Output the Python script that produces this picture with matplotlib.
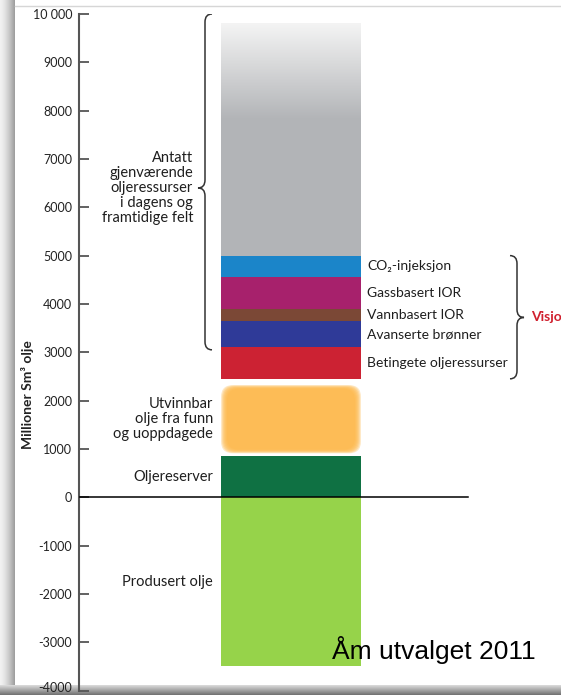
import numpy as np
import matplotlib.pyplot as plt
from matplotlib.path import Path
from matplotlib.patches import PathPatch, FancyBboxPatch
from matplotlib.colors import to_rgb
from matplotlib.transforms import ScaledTranslation

plt.rcParams['font.family'] = ['Lato', 'DejaVu Sans']

# resource bands, bottom -> top (million Sm3 oil)
band_names = ['Produsert olje', 'Oljereserver', 'Utvinnbar\nolje fra funn\nog uoppdagede',
              'Betingete oljeressurser', 'Avanserte brønner', 'Vannbasert IOR',
              'Gassbasert IOR', 'CO₂-injeksjon',
              'Antatt\ngjenværende\noljeressurser\ni dagens og\nframtidige felt']
band_low = [-3500, 0, 900, 2450, 3100, 3650, 3900, 4550, 5000]
band_high = [0, 850, 2330, 3100, 3650, 3900, 4550, 5000, 9800]
band_colors = ['#96d34a', '#0f7143', '#fdb849', '#cc2233', '#2f3a98',
               '#7b4836', '#a7216c', '#1b85c9', '#b2b4b7']
left_side = [True, True, True, False, False, False, False, False, True]

yticks = list(range(-4000, 10001, 1000))
ytick_labels = ['10 000' if t == 10000 else str(t) for t in yticks]

fig = plt.figure(figsize=(5.61, 6.95), dpi=100)
W, H = 561, 695

# bevelled frame around the picture
g = np.linspace(0, 1, 64)
lstrip = fig.add_axes([0, 0, 15 / W, 1])
c0, c1 = np.array(to_rgb('#f2f2f2')), np.array(to_rgb('#9c9c9c'))
lstrip.imshow((c0 + (c1 - c0) * g[:, None] ** 1.5)[None, :, :], aspect='auto', extent=[0, 1, 0, 1])
lstrip.axis('off')
bstrip = fig.add_axes([0, 0, 1, 10 / H])
c0, c1 = np.array(to_rgb('#dcdcdc')), np.array(to_rgb('#707070'))
bstrip.imshow((c0 + (c1 - c0) * g[:, None])[:, None, :], aspect='auto', extent=[0, 1, 0, 1])
bstrip.axis('off')
fig.add_artist(plt.Line2D([15 / W, 1], [1 - 5.5 / H, 1 - 5.5 / H], color='#d6d6d6', lw=1))

ax = fig.add_axes([79 / W, 4.5 / H, 482 / W, 676.5 / H])
ax.set_xlim(0, 482)
ax.set_ylim(-4000, 10000)
ax.patch.set_alpha(0)
k = 14000 / 676.5  # data units per pixel vertically

bar_x, bar_w = 212, 140
for name, lo, hi, col in zip(band_names, band_low, band_high, band_colors):
    if name.startswith('Utvinnbar'):
        # feathered rounded block for discovered/undiscovered oil
        for i in range(7):
            inset = 6 - i
            box = FancyBboxPatch((bar_x - bar_w / 2 + inset, lo - (6 - inset) * k * 0.6 + 4 * k),
                                 bar_w - 2 * inset, hi - lo + 2 * (6 - inset) * k * 0.6 - 8 * k,
                                 boxstyle='round,pad=0,rounding_size=12', mutation_aspect=k,
                                 fc=col, ec='none', alpha=0.3, zorder=2)
            ax.add_patch(box)
    else:
        ax.bar(bar_x, hi - lo, bottom=lo, width=bar_w, color=col, zorder=2)

# fade at the top of the grey band
top_lo, top_hi = 7800, band_high[-1]
fade = np.linspace(0, 1, 100)[:, None, None]
c0, c1 = np.array(to_rgb('#f4f4f4')), np.array(to_rgb(band_colors[-1]))
ax.imshow(c1 + (c0 - c1) * fade * np.ones((1, 1, 3)),
          extent=[bar_x - bar_w / 2, bar_x + bar_w / 2, top_lo, top_hi],
          origin='lower', aspect='auto', zorder=3)

ax.axhline(0, xmin=0, xmax=389 / 482, color='black', lw=1.1, zorder=5)

# labels
for name, lo, hi, left in zip(band_names, band_low, band_high, left_side):
    mid = (lo + hi) / 2
    if name.startswith('Antatt'):
        mid = 6400
    if left:
        ax.text(114 if name.startswith('Antatt') else 134, mid, name, ha='right', va='center',
                fontsize=10.5, linespacing=1.1, color='#1e1e1e')
    else:
        ax.text(288, mid, name, ha='left', va='center', fontsize=10, color='#1e1e1e')


def brace(x, y0, y1, ytip, w, r, sign):
    # curly brace: sign=+1 tip points right, -1 tip points left
    rk = r * k
    verts = [(x - sign * w, y1), (x, y1), (x, y1 - rk), (x, ytip + rk),
             (x, ytip), (x + sign * w, ytip), (x, ytip), (x, ytip - rk),
             (x, y0 + rk), (x, y0), (x - sign * w, y0)]
    codes = [Path.MOVETO, Path.CURVE3, Path.CURVE3, Path.LINETO,
             Path.CURVE3, Path.CURVE3, Path.CURVE3, Path.CURVE3,
             Path.LINETO, Path.CURVE3, Path.CURVE3]
    ax.add_patch(PathPatch(Path(verts, codes), fc='none', ec='#333333', lw=1.1, zorder=4))


brace(126, 3050, 10000, 6400, 7, 8, -1)
brace(438, band_low[3], band_high[7], 3720, 7, 8, 1)
ax.text(452, 3720, 'Visjon', color='#d0202e', fontweight='bold', fontsize=10,
        ha='left', va='center', clip_on=False)

ax.text(253, -3170, 'Åm utvalget 2011', family='Liberation Sans', fontsize=19,
        ha='left', va='center', color='black', zorder=6)

# axis styling
for s in ['top', 'right', 'bottom']:
    ax.spines[s].set_visible(False)
ax.spines['left'].set_color('#555555')
ax.spines['left'].set_linewidth(1.5)
ax.set_xticks([])
ax.set_yticks(yticks)
ax.set_yticklabels(ytick_labels)
ax.tick_params(axis='y', direction='in', length=7, width=1.3, color='#555555',
               labelsize=9, pad=5, labelcolor='#222222')
# lift the bottom tick label clear of the frame edge
lowest = ax.get_yticklabels()[0]
lowest.set_transform(lowest.get_transform() + ScaledTranslation(0, 2.5 / 72, fig.dpi_scale_trans))
fig.text(27 / W, 1 - 395 / H, 'Millioner Sm³ olje', rotation=90, fontweight='bold',
         fontsize=10, ha='center', va='center', color='#222222')

fig.savefig('out.png', dpi=100)
